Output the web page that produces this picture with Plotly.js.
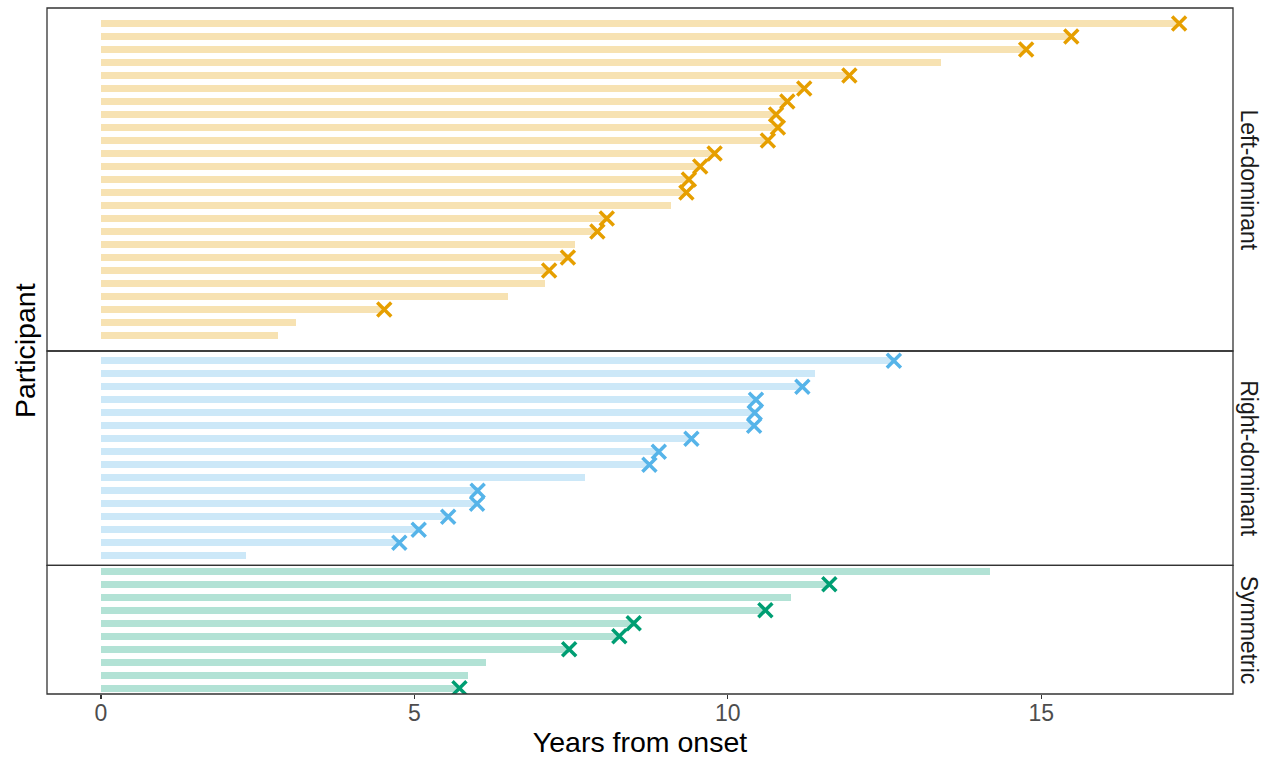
<!DOCTYPE html>
<html>
<head>
<meta charset="utf-8">
<script src="https://cdn.plot.ly/plotly-3.0.1.min.js"></script>
<style>
  html, body { margin: 0; padding: 0; background: #ffffff; }
  #chart { width: 1279px; height: 758px; }
</style>
</head>
<body>
<div id="chart"></div>
<script>
// ---------- data (rows listed top to bottom within each panel) ----------
var groups = ["Left-dominant", "Right-dominant", "Symmetric"];

// years of follow-up from onset (bar length)
var leftYears  = [17.20, 15.48, 14.76, 13.40, 11.94, 11.22, 10.95, 10.77, 10.80, 10.64, 9.79, 9.56, 9.38, 9.34, 9.09, 8.07, 7.92, 7.56, 7.45, 7.15, 7.09, 6.49, 4.52, 3.12, 2.82];
var rightYears = [12.65, 11.39, 11.19, 10.45, 10.43, 10.42, 9.42, 8.90, 8.75, 7.72, 6.01, 6.00, 5.54, 5.07, 4.76, 2.32];
var symYears   = [14.18, 11.62, 11.01, 10.60, 8.50, 8.27, 7.47, 6.14, 5.85, 5.72];

// event time (x marker); null = no event
var leftEvent  = [17.20, 15.48, 14.76, null, 11.94, 11.22, 10.95, 10.77, 10.80, 10.64, 9.79, 9.56, 9.38, 9.34, null, 8.07, 7.92, null, 7.45, 7.15, null, null, 4.52, null, null];
var rightEvent = [12.65, null, 11.19, 10.45, 10.43, 10.42, 9.42, 8.90, 8.75, null, 6.01, 6.00, 5.54, 5.07, 4.76, null];
var symEvent   = [null, 11.62, null, 10.60, 8.50, 8.27, 7.47, null, null, 5.72];

var xTicks = [0, 5, 10, 15];

// ---------- styling ----------
var barColors  = ["rgba(230,159,0,0.3)", "rgba(86,180,233,0.3)", "rgba(0,158,115,0.3)"];
var markColors = ["#E69F00", "#56B4E9", "#009E73"];
var yAxisIds   = ["y", "y2", "y3"];
var layoutKeys = ["yaxis", "yaxis2", "yaxis3"];
var years  = [leftYears, rightYears, symYears];
var events = [leftEvent, rightEvent, symEvent];

var traces = [];
var spans = [];
years.forEach(function (arr, g) {
  var n = arr.length;
  var rows = arr.map(function (_, i) { return n - 1 - i; });
  spans.push((n - 1) * 1.1);
  traces.push({
    type: "bar", orientation: "h",
    x: arr, y: rows, base: 0, width: 0.54,
    marker: { color: barColors[g], line: { width: 0 } },
    yaxis: yAxisIds[g], xaxis: "x",
    name: groups[g], showlegend: false, hoverinfo: "x"
  });
  var ex = [], ey = [];
  events[g].forEach(function (v, i) { if (v !== null) { ex.push(v); ey.push(rows[i]); } });
  traces.push({
    type: "scatter", mode: "markers",
    x: ex, y: ey,
    marker: { symbol: "x-thin", size: 14, color: markColors[g], line: { color: markColors[g], width: 3.5 } },
    yaxis: yAxisIds[g], xaxis: "x",
    name: groups[g] + " event", showlegend: false, hoverinfo: "x"
  });
});

// panel domains proportional to each panel's y span (free space)
var total = spans.reduce(function (a, b) { return a + b; }, 0);
var domSym = [0, spans[2] / total];
var domRight = [domSym[1], domSym[1] + spans[1] / total];
var domLeft = [domRight[1], 1];
var domains = [domLeft, domRight, domSym];

var font = "Liberation Sans, Arial, Helvetica, sans-serif";
var layout = {
  width: 1279, height: 758,
  margin: { l: 47, r: 46, t: 8, b: 64 },
  paper_bgcolor: "#ffffff", plot_bgcolor: "#ffffff",
  font: { family: font, color: "#000000" },
  bargap: 0,
  xaxis: {
    anchor: "y3", range: [-0.86, 18.06],
    tickvals: xTicks, ticktext: xTicks.map(String),
    ticks: "outside", ticklen: 4, tickwidth: 1.3, tickcolor: "#333333",
    tickfont: { size: 23, color: "#4D4D4D", family: font },
    ticklabelstandoff: -6,
    showgrid: false, zeroline: false, showline: false,
    title: { text: "Years from onset", font: { size: 28.5, color: "#000000", family: font }, standoff: 8 }
  },
  shapes: [],
  annotations: [
    { text: "Participant", xref: "paper", yref: "paper", x: -0.0185, y: 0.5,
      xanchor: "center", yanchor: "middle", textangle: -90, showarrow: false,
      font: { size: 28.5, color: "#000000", family: font } }
  ]
};

years.forEach(function (arr, g) {
  var n = arr.length;
  var pad = (n - 1) * 0.05;
  layout[layoutKeys[g]] = {
    domain: domains[g], anchor: "x",
    range: [-pad, n - 1 + pad],
    showticklabels: false, ticks: "", showgrid: false, zeroline: false, showline: false
  };
  layout.shapes.push({
    type: "rect", xref: "paper", yref: "paper",
    x0: 0, x1: 1, y0: domains[g][0], y1: domains[g][1],
    line: { color: "#333333", width: 1.3 }, fillcolor: "rgba(0,0,0,0)", layer: "above"
  });
  layout.annotations.push({
    text: groups[g], xref: "paper", yref: "paper",
    x: 1.0135, y: (domains[g][0] + domains[g][1]) / 2,
    xanchor: "center", yanchor: "middle", textangle: 90, showarrow: false,
    font: { size: 23, color: "#1A1A1A", family: font }
  });
});

Plotly.newPlot("chart", traces, layout, { displayModeBar: false, staticPlot: true });
</script>
</body>
</html>
